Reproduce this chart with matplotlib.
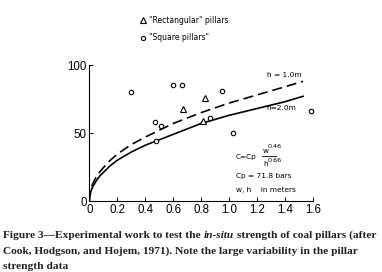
import matplotlib
matplotlib.use("Agg")
import matplotlib.pyplot as plt
from matplotlib.lines import Line2D

# data
sq_w = [0.30, 0.60, 0.66, 0.47, 0.51, 0.48, 0.95, 0.86, 1.03, 1.59]
sq_c = [80.5, 85.5, 85.5, 58, 55.5, 44, 81, 61, 50, 66]
rect_w = [0.67, 0.83, 0.81]
rect_c = [68, 76, 59]

curve_w = [0.0, 0.003, 0.008, 0.015, 0.03, 0.05, 0.075, 0.1, 0.15, 0.2, 0.25, 0.3, 0.4,
           0.5, 0.6, 0.7, 0.8, 0.9, 1.0, 1.1, 1.2, 1.3, 1.4, 1.53]
h1_c = [0, 5, 8, 10.5, 14, 18, 21.5, 24.5, 30, 34.5, 38, 41.5, 47,
        52, 57, 61, 65, 68.5, 72, 75, 78, 81, 84, 88]
h2_c = [0, 3.5, 6, 8.5, 11.5, 15, 18.5, 21, 26, 30, 33, 36, 41,
        45, 49, 53, 57, 60, 63, 65.5, 68, 70.5, 73, 77]

xticks = [0, 0.2, 0.4, 0.6, 0.8, 1.0, 1.2, 1.4, 1.6]
xticklabels = ["0", "0.2", "0.4", "0.6", "0.8", "1.0", "1.2", "1.4", "1.6"]
yticks = [0, 50, 100]

fig = plt.figure(figsize=(3.82, 2.72), dpi=100)
ax = fig.add_axes([0.234, 0.261, 0.585, 0.5])

ax.plot(curve_w, h1_c, color="black", lw=1.2, dashes=(6, 3))
ax.plot(curve_w, h2_c, color="black", lw=1.2)
ax.plot(sq_w, sq_c, "o", ms=3.2, mfc="white", mec="black", mew=0.8, clip_on=False)
ax.plot(rect_w, rect_c, "^", ms=4.2, mfc="white", mec="black", mew=0.8)

ax.set_xlim(0, 1.6)
ax.set_ylim(0, 100)
for s in ["top", "right"]:
    ax.spines[s].set_visible(False)
ax.spines["left"].set_linewidth(0.8)
ax.spines["bottom"].set_linewidth(0.8)
ax.set_xticks(xticks)
ax.set_xticklabels(xticklabels)
ax.set_yticks(yticks)
ax.tick_params(direction="in", length=3, width=0.7, labelsize=8.3, pad=2)
for lab in ax.get_xticklabels() + ax.get_yticklabels():
    lab.set_family("Liberation Sans")

small = dict(fontsize=5.3, family="DejaVu Sans", color="black")
tiny = dict(fontsize=4.6, family="DejaVu Sans", color="black")
ax.text(1.27, 91, "h = 1.0m", **small)
ax.text(1.27, 67, "h=2.0m", **small)
ax.text(1.05, 32.5, "C=Cp", va="center", **small)
ax.text(1.238, 36.5, "w", va="center", **small)
ax.text(1.275, 40, "0.46", va="center", **tiny)
ax.text(1.243, 27, "h", va="center", **small)
ax.text(1.275, 29.5, "0.66", va="center", **tiny)
ax.plot([1.235, 1.335], [33, 33], color="black", lw=0.6)
ax.text(1.05, 18.5, "Cp = 71.8 bars", va="center", **small)
ax.text(1.05, 8, "w, h    in meters", va="center", **small)

handles = [
    Line2D([], [], ls="none", marker="^", ms=4, mfc="white", mec="black", mew=0.8),
    Line2D([], [], ls="none", marker="o", ms=3, mfc="white", mec="black", mew=0.8),
]
fig.legend(handles, ['"Rectangular" pillars', '"Square pillars"'],
           loc="upper left", bbox_to_anchor=(0.355, 0.955), frameon=False,
           prop={"family": "DejaVu Sans", "size": 5.5}, handletextpad=0.2,
           labelspacing=1.1, handlelength=1.0, borderpad=0)

# caption with an italic run
cap_color = "#231f20"
capf = dict(fontsize=8.2, family="Liberation Serif", weight="bold", color=cap_color)
renderer = fig.canvas.get_renderer()


def put_run(x, y, parts):
    for txt, style in parts:
        t = fig.text(x, y, txt, style=style, **capf)
        bb = t.get_window_extent(renderer=renderer)
        x += bb.width / fig.bbox.width


put_run(0.008, 0.125, [("Figure 3\u2014Experimental work to test the ", "normal"),
                       ("in-situ", "italic"),
                       (" strength of coal pillars (after", "normal")])
put_run(0.008, 0.067, [("Cook, Hodgson, and Hojem, 1971). Note the large variability in the pillar", "normal")])
put_run(0.008, 0.011, [("strength data", "normal")])

fig.savefig("out.png", dpi=100)
